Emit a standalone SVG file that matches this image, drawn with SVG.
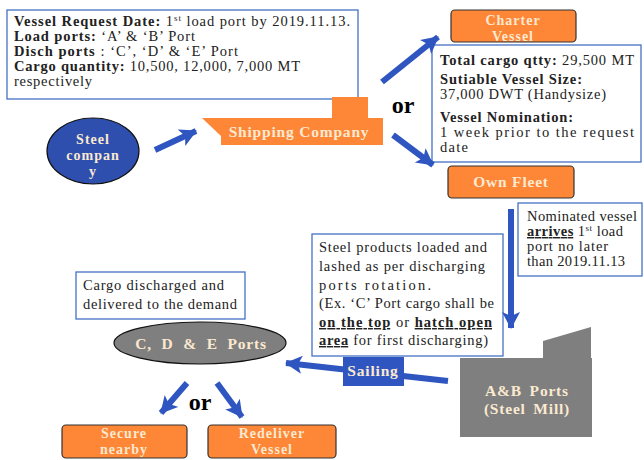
<svg xmlns="http://www.w3.org/2000/svg" width="644" height="460" viewBox="0 0 644 460">
<style>
.box{fill:#fff;stroke:#4472C4;stroke-width:1.3}
.t{font-family:"Liberation Serif",serif;font-size:14.5px;fill:#222}
.b{font-weight:bold}
.org{fill:#FE8637;stroke:#333;stroke-width:1.2}
.lbl{font-family:"Liberation Serif",serif;font-weight:bold;font-size:15.5px;fill:#FBE9D0;text-anchor:middle;letter-spacing:0.8px}
.ml{font-size:14px;letter-spacing:1px}
.or{font-family:"Liberation Serif",serif;font-weight:bold;font-size:24px;fill:#000;text-anchor:middle}
.arr{stroke:#2F55C0;stroke-width:6;fill:none;marker-end:url(#ah)}
.u{text-decoration:underline}
</style>
<defs>
<marker id="ah" markerUnits="userSpaceOnUse" markerWidth="20" markerHeight="20" refX="16" refY="9" orient="auto">
<polygon points="0,0 17,9 0,18 4,9" fill="#2F55C0"/>
</marker>
</defs>

<g id="request-box">
<rect class="box" x="7" y="10" width="351" height="89" stroke="#2F52A8"/>
<text class="t" x="14" y="26" textLength="336" lengthAdjust="spacing"><tspan class="b">Vessel Request Date:</tspan> 1<tspan font-size="9" dy="-5">st</tspan><tspan dy="5"> load port by 2019.11.13.</tspan></text>
<text class="t" x="14" y="41" textLength="181" lengthAdjust="spacing"><tspan class="b">Load ports:</tspan> ‘A’ &amp; ‘B’ Port</text>
<text class="t" x="14" y="56" textLength="224" lengthAdjust="spacing"><tspan class="b">Disch ports</tspan> : ‘C’, ‘D’ &amp; ‘E’ Port</text>
<text class="t" x="14" y="71" textLength="286" lengthAdjust="spacing"><tspan class="b">Cargo quantity:</tspan> 10,500, 12,000, 7,000 MT</text>
<text class="t" x="14" y="86" textLength="78" lengthAdjust="spacing">respectively</text>
</g>

<g id="steel-company">
<ellipse cx="93" cy="151" rx="46" ry="33" fill="#2E4FAE" stroke="#111" stroke-width="1.2"/>
<text class="lbl ml" x="93" y="144">Steel</text>
<text class="lbl ml" x="93" y="160">compan</text>
<text class="lbl ml" x="93" y="176">y</text>
</g>

<g id="shipping-company">
<polygon points="202,118 332,118 332,97 368,97 368,118 383,118 383,145 221,145 221,136" fill="#FE8637"/>
<text class="lbl" x="299" y="137" letter-spacing="1">Shipping Company</text>
</g>

<g id="charter-vessel">
<rect class="org" x="451" y="10" width="125" height="32" rx="4"/>
<text class="lbl ml" x="513" y="24.5">Charter</text>
<text class="lbl ml" x="513" y="40.5">Vessel</text>
</g>

<g id="vessel-info">
<rect class="box" x="432" y="45" width="209" height="117"/>
<text class="t" x="440" y="65" textLength="194" lengthAdjust="spacing"><tspan class="b">Total cargo qtty:</tspan> 29,500 MT</text>
<text class="t" x="440" y="84" font-weight="bold" textLength="142" lengthAdjust="spacing">Sutiable Vessel Size:</text>
<text class="t" x="440" y="99" textLength="166" lengthAdjust="spacing">37,000 DWT (Handysize)</text>
<text class="t" x="440" y="122" font-weight="bold" textLength="133" lengthAdjust="spacing">Vessel Nomination:</text>
<text class="t" x="440" y="137" textLength="194" lengthAdjust="spacing">1 week prior to the request</text>
<text class="t" x="440" y="152" textLength="28" lengthAdjust="spacing">date</text>
</g>

<g id="own-fleet">
<rect class="org" x="448" y="166" width="126" height="32" rx="4"/>
<text class="lbl" x="511" y="187">Own Fleet</text>
</g>

<g id="nominated-box">
<rect class="box" x="518" y="203" width="124" height="73"/>
<text class="t" x="527" y="221" textLength="110" lengthAdjust="spacing">Nominated vessel</text>
<text class="t" x="527" y="236" textLength="96" lengthAdjust="spacing"><tspan class="b u">arrives</tspan> 1<tspan font-size="9" dy="-5">st</tspan><tspan dy="5"> load</tspan></text>
<text class="t" x="527" y="251" textLength="81" lengthAdjust="spacing">port no later</text>
<text class="t" x="527" y="266" textLength="98" lengthAdjust="spacing">than 2019.11.13</text>
</g>

<g id="loading-box">
<rect class="box" x="312" y="234" width="191" height="122"/>
<text class="t" x="319" y="252" textLength="168" lengthAdjust="spacing">Steel products loaded and</text>
<text class="t" x="319" y="271" textLength="166" lengthAdjust="spacing">lashed as per discharging</text>
<text class="t" x="319" y="290" textLength="112" lengthAdjust="spacing">ports rotation.</text>
<text class="t" x="319" y="308" textLength="175" lengthAdjust="spacing">(Ex. ‘C’ Port cargo shall be</text>
<text class="t" x="319" y="327" textLength="173" lengthAdjust="spacing"><tspan class="b u">on the top</tspan> or <tspan class="b u">hatch open </tspan></text>
<text class="t" x="319" y="345" textLength="169" lengthAdjust="spacing"><tspan class="b u">area</tspan> for first discharging)</text>
</g>

<g id="ab-ports">
<polygon points="460,358 543,358 543,341 591,327 591,358 592,358 592,437 460,437" fill="#7F7F7F"/>
<text class="lbl" x="527" y="396" fill="#F0E6CF" word-spacing="3">A&amp;B Ports</text>
<text class="lbl" x="527" y="414" fill="#F0E6CF" word-spacing="3">(Steel Mill)</text>
</g>

<g id="discharge-box">
<rect class="box" x="76" y="272" width="169" height="47"/>
<text class="t" x="83" y="290" textLength="141" lengthAdjust="spacing">Cargo discharged and</text>
<text class="t" x="83" y="309" textLength="154" lengthAdjust="spacing">delivered to the demand</text>
</g>

<g id="cde-ports">
<ellipse cx="200" cy="343" rx="86" ry="21" fill="#7F7F7F" stroke="#111" stroke-width="1.2"/>
<text class="lbl" x="201" y="349" fill="#F0E6CF" letter-spacing="1.5" word-spacing="5">C, D &amp; E Ports</text>
</g>

<g id="secure-nearby">
<rect class="org" x="62" y="425" width="125" height="33" rx="4"/>
<text class="lbl ml" x="124" y="438">Secure</text>
<text class="lbl ml" x="124" y="454">nearby</text>
</g>

<g id="redeliver-vessel">
<rect class="org" x="208" y="425" width="128" height="33" rx="4"/>
<text class="lbl ml" x="272" y="438">Redeliver</text>
<text class="lbl ml" x="272" y="454">Vessel</text>
</g>

<g id="connectors">
<line class="arr" x1="155" y1="150" x2="196" y2="131"/>
<line class="arr" x1="382" y1="82" x2="438" y2="37"/>
<line class="arr" x1="393" y1="135" x2="433" y2="165"/>
<line class="arr" x1="511" y1="209" x2="511" y2="328"/>
<line class="arr" x1="448" y1="381" x2="286" y2="363"/>
<line class="arr" x1="187" y1="383" x2="161" y2="413"/>
<line class="arr" x1="217" y1="383" x2="242" y2="417"/>
<rect x="343" y="357" width="61" height="29" fill="#2F55C0"/>
<text class="lbl" x="373" y="376" font-size="13" fill="#F0F0F0" letter-spacing="0.3">Sailing</text>
<text class="or" x="403" y="113">or</text>
<text class="or" x="200" y="410">or</text>
</g>
</svg>
